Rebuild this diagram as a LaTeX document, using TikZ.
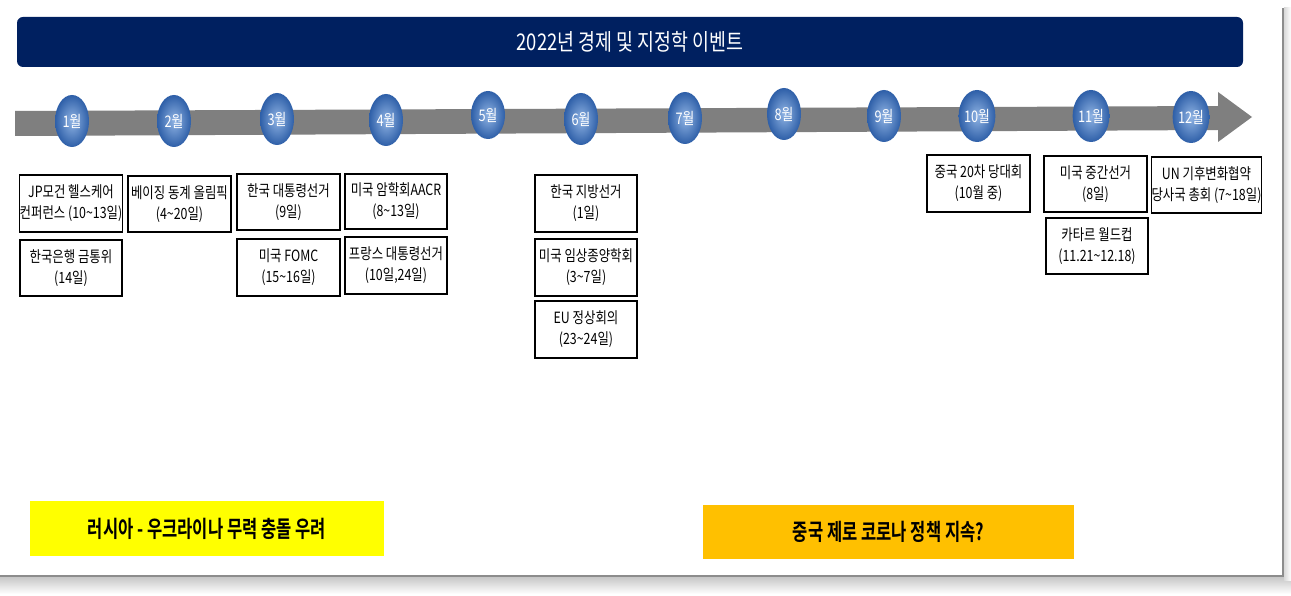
\documentclass[tikz,border=0pt]{standalone}
\usepackage{fontspec}
\usetikzlibrary{shapes.geometric}
\newfontfamily\kr[FakeStretch=0.8]{Noto Sans CJK KR}
\newfontfamily\krb[FakeStretch=0.72]{Noto Sans CJK KR Bold}
\definecolor{navy}{HTML}{002060}
\definecolor{bandgray}{HTML}{7F7F7F}
\definecolor{ballout}{HTML}{2E5FA8}
\definecolor{ballin}{HTML}{8FB3E3}
\definecolor{yel}{HTML}{FFFF00}
\definecolor{org}{HTML}{FFC000}
\tikzset{
  month/.style={ellipse, minimum width=34pt, minimum height=52pt, inner sep=0pt,
    inner color=ballin, outer color=ballout, text=white,
    font=\kr\fontsize{16}{18}\selectfont},
  evbox/.style={draw=black, line width=1.6pt, fill=white, inner sep=0pt,
    align=center, font=\kr\fontsize{15.5}{21}\selectfont},
  note/.style={inner sep=0pt, font=\krb\fontsize{23}{26}\selectfont}
}
\begin{document}
\begin{tikzpicture}[x=1pt,y=-1pt]
\useasboundingbox (0,0) rectangle (1291,596);
\fill[white] (0,0) rectangle (1291,596);
% slide frame and shadow
\shade[top color=black!22, bottom color=white] (0,577) rectangle (1291,594);
\shade[left color=black!15, right color=white] (1284,8) rectangle (1291,580);
\draw[black!45, line width=1.2pt] (1283,8) -- (1283,576) -- (0,576);
% title bar
\node[fill=navy, rounded corners=6pt, minimum width=1226pt, minimum height=50pt, inner sep=0pt,
  text=white, font=\kr\fontsize{23}{26}\selectfont] (title) at (630,42) {2022년 경제 및 지정학 이벤트};
% timeline arrow
\fill[bandgray] (15,111) -- (1218,106) -- (1218,92) -- (1252,117) -- (1218,142) -- (1218,130) -- (15,136) -- cycle;
% months
\node[month] (m1) at (72,121) {1월};
\node[month] (m2) at (174,121) {2월};
\node[month] (m3) at (277,119) {3월};
\node[month] (m4) at (386,120) {4월};
\node[month, minimum height=48pt] (m5) at (488,115) {5월};
\node[month] (m6) at (581,119) {6월};
\node[month] (m7) at (685,118) {7월};
\node[month] (m8) at (784,114) {8월};
\node[month] (m9) at (884,116) {9월};
\node[month] (m10) at (977,116) {10월};
\node[month] (m11) at (1091,116) {11월};
\node[month] (m12) at (1191,117) {12월};
% event boxes
\node[evbox, minimum width=102pt, minimum height=57pt] (e1) at (71,203.5) {JP모건 헬스케어\\컨퍼런스 (10\textasciitilde13일)};
\node[evbox, minimum width=102pt, minimum height=56pt] (e2) at (71,268) {한국은행 금통위\\(14일)};
\node[evbox, minimum width=103pt, minimum height=56pt] (e3) at (179.5,204) {베이징 동계 올림픽\\(4\textasciitilde20일)};
\node[evbox, minimum width=103pt, minimum height=56pt] (e4) at (288.5,202) {한국 대통령선거\\(9일)};
\node[evbox, minimum width=103pt, minimum height=57pt] (e5) at (288.5,267.5) {미국 FOMC\\(15\textasciitilde16일)};
\node[evbox, minimum width=102pt, minimum height=55pt] (e6) at (396,201.5) {미국 암학회AACR\\(8\textasciitilde13일)};
\node[evbox, minimum width=102pt, minimum height=57pt] (e7) at (396,265.5) {프랑스 대통령선거\\(10일,24일)};
\node[evbox, minimum width=102pt, minimum height=57pt] (e8) at (586,203.5) {한국 지방선거\\(1일)};
\node[evbox, minimum width=102pt, minimum height=57pt] (e9) at (586,267.5) {미국 임상종양학회\\(3\textasciitilde7일)};
\node[evbox, minimum width=102pt, minimum height=57pt] (e10) at (586,329.5) {EU 정상회의\\(23\textasciitilde24일)};
\node[evbox, minimum width=103pt, minimum height=57pt] (e11) at (978.5,183.5) {중국 20차 당대회\\(10월 중)};
\node[evbox, minimum width=103pt, minimum height=56pt] (e12) at (1095.5,184) {미국 중간선거\\(8일)};
\node[evbox, minimum width=107pt, minimum height=56pt] (e13) at (1206.5,185) {UN 기후변화협약\\당사국 총회 (7\textasciitilde18일)};
\node[evbox, minimum width=102pt, minimum height=56pt] (e14) at (1097,246) {카타르 월드컵\\(11.21\textasciitilde12.18)};
% notes
\node[note, fill=yel, minimum width=354pt, minimum height=55pt] (n1) at (207,528.5) {러시아 - 우크라이나 무력 충돌 우려};
\node[note, fill=org, minimum width=371pt, minimum height=54pt] (n2) at (888.5,532) {중국 제로 코로나 정책 지속?};
\end{tikzpicture}
\end{document}
